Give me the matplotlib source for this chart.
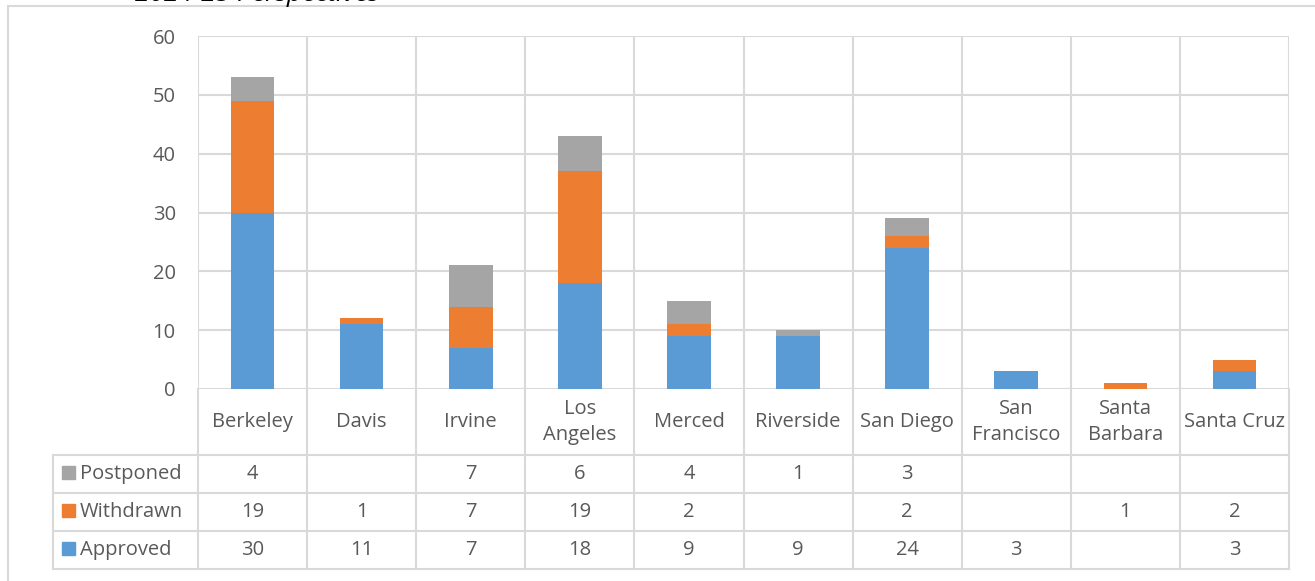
import numpy as np
import matplotlib.pyplot as plt
from matplotlib.patches import Rectangle

plt.rcParams['font.family'] = ['Open Sans', 'DejaVu Sans']

## data
campuses = ["Berkeley", "Davis", "Irvine", "Los\nAngeles", "Merced", "Riverside",
            "San Diego", "San\nFrancisco", "Santa\nBarbara", "Santa Cruz"]
approved = [30, 11, 7, 18, 9, 9, 24, 3, 0, 3]
withdrawn = [19, 1, 7, 19, 2, 0, 2, 0, 1, 2]
postponed = [4, 0, 7, 6, 4, 1, 3, 0, 0, 0]
series_names = ["Postponed", "Withdrawn", "Approved"]
yticks = [0, 10, 20, 30, 40, 50, 60]

blue = "#5B9BD5"
orange = "#ED7D31"
grey = "#A5A5A5"
grid_c = "#D9D9D9"
txt_c = "#595959"

W, H = 1315, 581
fig = plt.figure(figsize=(W / 100, H / 100), dpi=100)

# outer chart frame (runs off the right / bottom)
fig.patches.append(Rectangle((8 / W, -0.05), 1.1, 1 - 6 / H + 0.05, transform=fig.transFigure,
                             fill=False, edgecolor=grid_c, linewidth=1.5))
# title sits mostly above the visible area, as in the source screenshot
fig.text(135 / W, 1 - 1 / H, "2024-25 Perspectives", fontsize=19, style='italic',
         color='black', va='baseline')

# plot area
L, R, T, B = 198, 1289, 36, 389
ax = fig.add_axes([L / W, 1 - B / H, (R - L) / W, (B - T) / H])
x = np.arange(len(campuses)) + 0.5
a = np.array(approved)
w = np.array(withdrawn)
p = np.array(postponed)
ax.bar(x, a, 0.4, color=blue, zorder=3)
ax.bar(x, w, 0.4, bottom=a, color=orange, zorder=3)
ax.bar(x, p, 0.4, bottom=a + w, color=grey, zorder=3)
ax.set_xlim(0, len(campuses))
ax.set_ylim(0, 60)
ax.set_yticks(yticks)
ax.set_xticks([])
for yv in yticks:
    ax.axhline(yv, color=grid_c, lw=1.5, zorder=1)
for xv in range(len(campuses) + 1):
    ax.axvline(xv, color=grid_c, lw=1.5, zorder=1)
for s in ax.spines.values():
    s.set_visible(False)
ax.tick_params(axis='y', length=0, pad=16, labelsize=14.5, labelcolor=txt_c)

# data table under the plot
colw = (R - L) / len(campuses)
left_units = (L - 53) / colw
TB = 569
tab = fig.add_axes([53 / W, 1 - TB / H, (R - 53) / W, (TB - B) / H])
tab.set_xlim(-left_units, len(campuses))
tab.set_ylim(TB - B, 0)
tab.axis('off')
rows = [0, 66, 104, 142, 180]
for xv in range(len(campuses) + 1):
    tab.plot([xv, xv], [0, 180], color=grid_c, lw=1.5, clip_on=False)
tab.plot([-left_units, -left_units], [66, 180], color=grid_c, lw=1.5, clip_on=False)
for yv in rows[1:]:
    tab.plot([-left_units, len(campuses)], [yv, yv], color=grid_c, lw=1.5, clip_on=False)

for i, c in enumerate(campuses):
    tab.text(i + 0.5, 33, c, ha='center', va='center', fontsize=14.5, color=txt_c,
             linespacing=1.35)

values = [postponed, withdrawn, approved]
colors = [grey, orange, blue]
for r, (name, vals, col) in enumerate(zip(series_names, values, colors)):
    yc = (rows[r + 1] + rows[r + 2]) / 2
    tab.add_patch(Rectangle((-left_units + 9 / colw, yc - 8.5), 13 / colw, 13,
                            color=col, clip_on=False))
    tab.text(-left_units + 27 / colw, yc, name, ha='left', va='center', fontsize=14.5,
             color=txt_c)
    for i, v in enumerate(vals):
        if v:
            tab.text(i + 0.5, yc, str(v), ha='center', va='center', fontsize=14.5,
                     color=txt_c)

fig.savefig("out.png", dpi=100)
